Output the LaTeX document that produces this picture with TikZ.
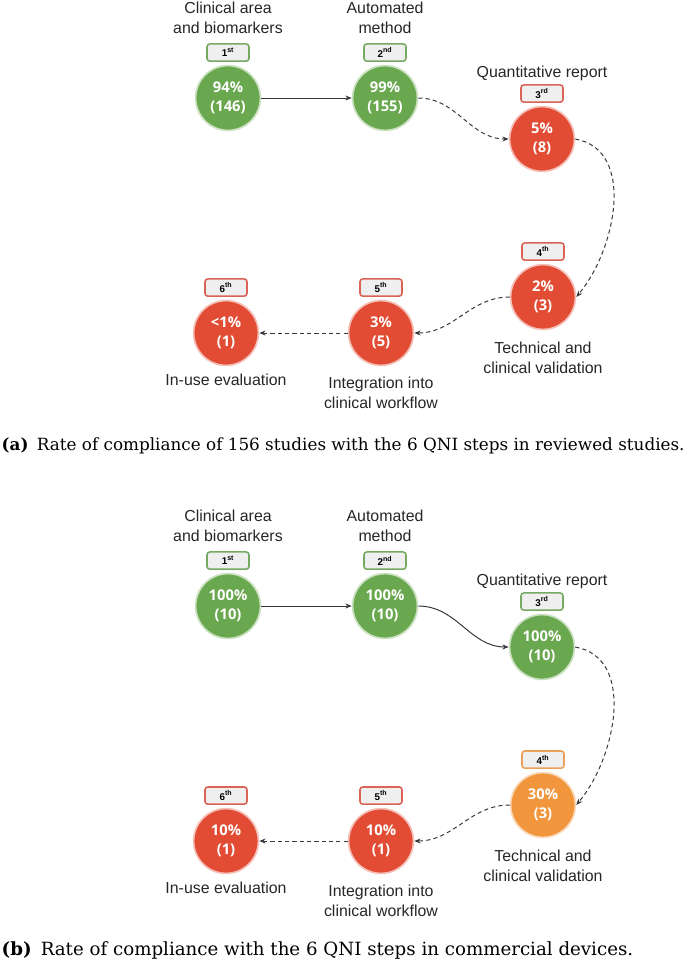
\documentclass[tikz,border=0pt]{standalone}
\usepackage{fontspec}
\setmainfont{DejaVu Serif}
\setsansfont{Liberation Sans}
\newfontfamily\pctfont{Open Sans}
\usetikzlibrary{arrows.meta, positioning}
\definecolor{mygreen}{RGB}{106,168,79}
\definecolor{myred}{RGB}{226,76,52}
\definecolor{myorange}{RGB}{241,150,60}
\definecolor{mydark}{RGB}{55,55,60}
\definecolor{hdrgray}{RGB}{239,239,239}
\definecolor{bdrgreen}{RGB}{118,170,98}
\definecolor{bdrred}{RGB}{218,98,86}
\definecolor{bdrorange}{RGB}{236,160,90}
\newcommand{\stepord}[2]{#1\textsuperscript{#2}}
\tikzset{
  greencirc/.style={circle, fill=mygreen, draw=mygreen!35, line width=1.2pt,
    minimum size=1.62cm, inner sep=0pt, align=center, text=white,
    font=\pctfont\bfseries\fontsize{10.5}{13.5}\selectfont},
  redcirc/.style={greencirc, fill=myred, draw=myred!35},
  orangecirc/.style={greencirc, fill=myorange, draw=myorange!35},
  greenbadge/.style={rectangle, rounded corners=2pt, fill=hdrgray, draw=bdrgreen,
    line width=1.1pt, minimum width=1.05cm, minimum height=0.43cm, inner sep=0pt,
    font=\sffamily\bfseries\fontsize{7}{8}\selectfont},
  redbadge/.style={greenbadge, draw=bdrred},
  orangebadge/.style={greenbadge, draw=bdrorange},
  steplabel/.style={align=center, inner sep=1pt, text=black!85,
    font=\sffamily\fontsize{11.3}{14.2}\selectfont},
  caption/.style={anchor=west, inner sep=1pt},
  solidarrow/.style={-{Stealth[length=4.5pt, width=3.5pt]}, line width=0.7pt, color=mydark},
  dasharrow/.style={solidarrow, dash pattern=on 3pt off 2.2pt}
}
\begin{document}
\begin{tikzpicture}[x=0.025cm, y=-0.025cm]
  \useasboundingbox (0,0) rectangle (687,964);

  % (a) reviewed studies
  \node[greencirc] (a1) at (228,98) {94\%\\(146)};
  \node[greencirc] (a2) at (385,98) {99\%\\(155)};
  \node[redcirc] (a3) at (542,139) {5\%\\(8)};
  \node[redcirc] (a4) at (543,297) {2\%\\(3)};
  \node[redcirc] (a5) at (381,333) {3\%\\(5)};
  \node[redcirc] (a6) at (226,333) {<1\%\\(1)};

  \node[greenbadge, above=0.07cm of a1] (a1b) {\stepord{1}{st}};
  \node[greenbadge, above=0.07cm of a2] (a2b) {\stepord{2}{nd}};
  \node[redbadge, above=0.07cm of a3] (a3b) {\stepord{3}{rd}};
  \node[redbadge, above=0.07cm of a4] (a4b) {\stepord{4}{th}};
  \node[redbadge, above=0.07cm of a5] (a5b) {\stepord{5}{th}};
  \node[redbadge, above=0.07cm of a6] (a6b) {\stepord{6}{th}};

  \node[steplabel] (a1l) at (228,18) {Clinical area\\and biomarkers};
  \node[steplabel] (a2l) at (385,18) {Automated\\method};
  \node[steplabel] (a3l) at (542,73) {Quantitative report};
  \node[steplabel] (a4l) at (543,358) {Technical and\\clinical validation};
  \node[steplabel] (a5l) at (381,393) {Integration into\\clinical workflow};
  \node[steplabel] (a6l) at (226,380) {In-use evaluation};

  \draw[solidarrow] (a1) -- (a2);
  \draw[dasharrow] (a2.east) to[out=0, in=180] (a3.west);
  \draw[dasharrow] (a3.east) to[out=-10, in=50] (a4.east);
  \draw[dasharrow] (a4.west) to[out=180, in=0] (a5.east);
  \draw[dasharrow] (a5) -- (a6);

  \node[caption, font=\fontsize{11.95}{14}\selectfont] (capa) at (0,446)
    {\textbf{(a)}\enspace Rate of compliance of 156 studies with the 6 QNI steps in reviewed studies.};

  % (b) commercial devices
  \begin{scope}[shift={(0,508)}]
    \node[greencirc] (b1) at (228,98) {100\%\\(10)};
    \node[greencirc] (b2) at (385,98) {100\%\\(10)};
    \node[greencirc] (b3) at (542,139) {100\%\\(10)};
    \node[orangecirc] (b4) at (543,297) {30\%\\(3)};
    \node[redcirc] (b5) at (381,333) {10\%\\(1)};
    \node[redcirc] (b6) at (226,333) {10\%\\(1)};

    \node[greenbadge, above=0.07cm of b1] (b1b) {\stepord{1}{st}};
    \node[greenbadge, above=0.07cm of b2] (b2b) {\stepord{2}{nd}};
    \node[greenbadge, above=0.07cm of b3] (b3b) {\stepord{3}{rd}};
    \node[orangebadge, above=0.07cm of b4] (b4b) {\stepord{4}{th}};
    \node[redbadge, above=0.07cm of b5] (b5b) {\stepord{5}{th}};
    \node[redbadge, above=0.07cm of b6] (b6b) {\stepord{6}{th}};

    \node[steplabel] (b1l) at (228,18) {Clinical area\\and biomarkers};
    \node[steplabel] (b2l) at (385,18) {Automated\\method};
    \node[steplabel] (b3l) at (542,73) {Quantitative report};
    \node[steplabel] (b4l) at (543,358) {Technical and\\clinical validation};
    \node[steplabel] (b5l) at (381,393) {Integration into\\clinical workflow};
    \node[steplabel] (b6l) at (226,380) {In-use evaluation};

    \draw[solidarrow] (b1) -- (b2);
    \draw[solidarrow] (b2.east) to[out=0, in=180] (b3.west);
    \draw[dasharrow] (b3.east) to[out=-10, in=50] (b4.east);
    \draw[dasharrow] (b4.west) to[out=180, in=0] (b5.east);
    \draw[dasharrow] (b5) -- (b6);
  \end{scope}

  \node[caption, font=\fontsize{12.95}{15}\selectfont] (capb) at (0,950)
    {\textbf{(b)}\enspace Rate of compliance with the 6 QNI steps in commercial devices.};
\end{tikzpicture}
\end{document}
